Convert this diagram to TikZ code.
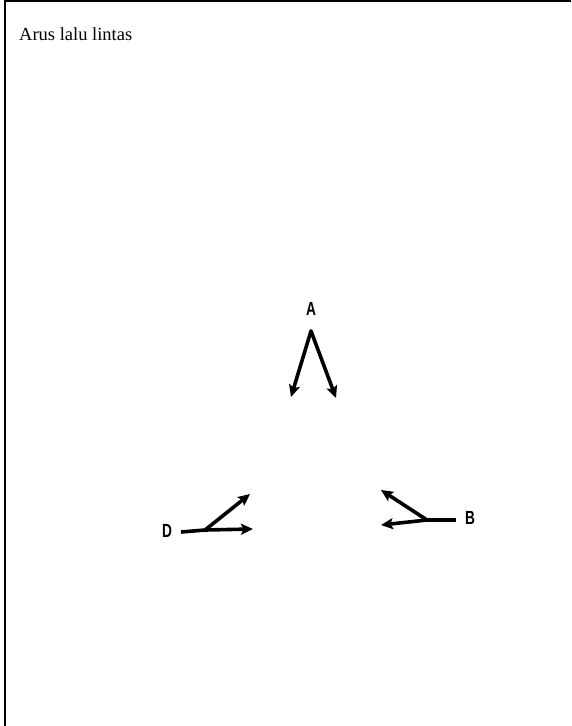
\documentclass[tikz,border=0pt]{standalone}
\usepackage{fontspec}
\setmainfont{Liberation Serif}
\newfontfamily\lblfont{Liberation Sans}
\usetikzlibrary{arrows.meta}
\begin{document}
\begin{tikzpicture}[x=1pt,y=-1pt,
  frame/.style={line width=2pt,black},
  flow/.style={line width=3.6pt,black,line cap=round,-{Stealth[length=12pt,width=11pt,inset=2.5pt]}},
  stem/.style={line width=3.6pt,black},
  lbl/.style={font=\lblfont\bfseries\fontsize{19}{19}\selectfont,inner sep=0pt,xscale=0.72}]
\useasboundingbox (0,0) rectangle (571,726);
\draw[frame] (4,1) -- (571,1);
\draw[frame] (5,0) -- (5,726);
\node[anchor=base west,inner sep=0pt,font=\fontsize{18.5}{20}\selectfont] (title) at (19,40) {Arus lalu lintas};
% A
\node[lbl] (A) at (311,309) {A};
\coordinate (Av) at (311,331);
\coordinate (Al) at (291,397);
\coordinate (Ar) at (336,398);
\draw[flow] (Av) -- (Al);
\draw[flow] (Av) -- (Ar);
% D
\node[lbl] (D) at (167,531) {D};
\coordinate (Ds) at (181,532);
\coordinate (Dj) at (205,530);
\coordinate (Du) at (250,494);
\coordinate (Dr) at (253,529);
\draw[stem] (Ds) -- (Dj);
\draw[flow] (Dj) -- (Du);
\draw[flow] (Dj) -- (Dr);
% B
\node[lbl] (B) at (470,518) {B};
\coordinate (Bs) at (456,520);
\coordinate (Bj) at (427,520);
\coordinate (Bu) at (381,490);
\coordinate (Bl) at (381,525);
\draw[stem] (Bs) -- (Bj);
\draw[flow] (Bj) -- (Bu);
\draw[flow] (Bj) -- (Bl);
\end{tikzpicture}
\end{document}
